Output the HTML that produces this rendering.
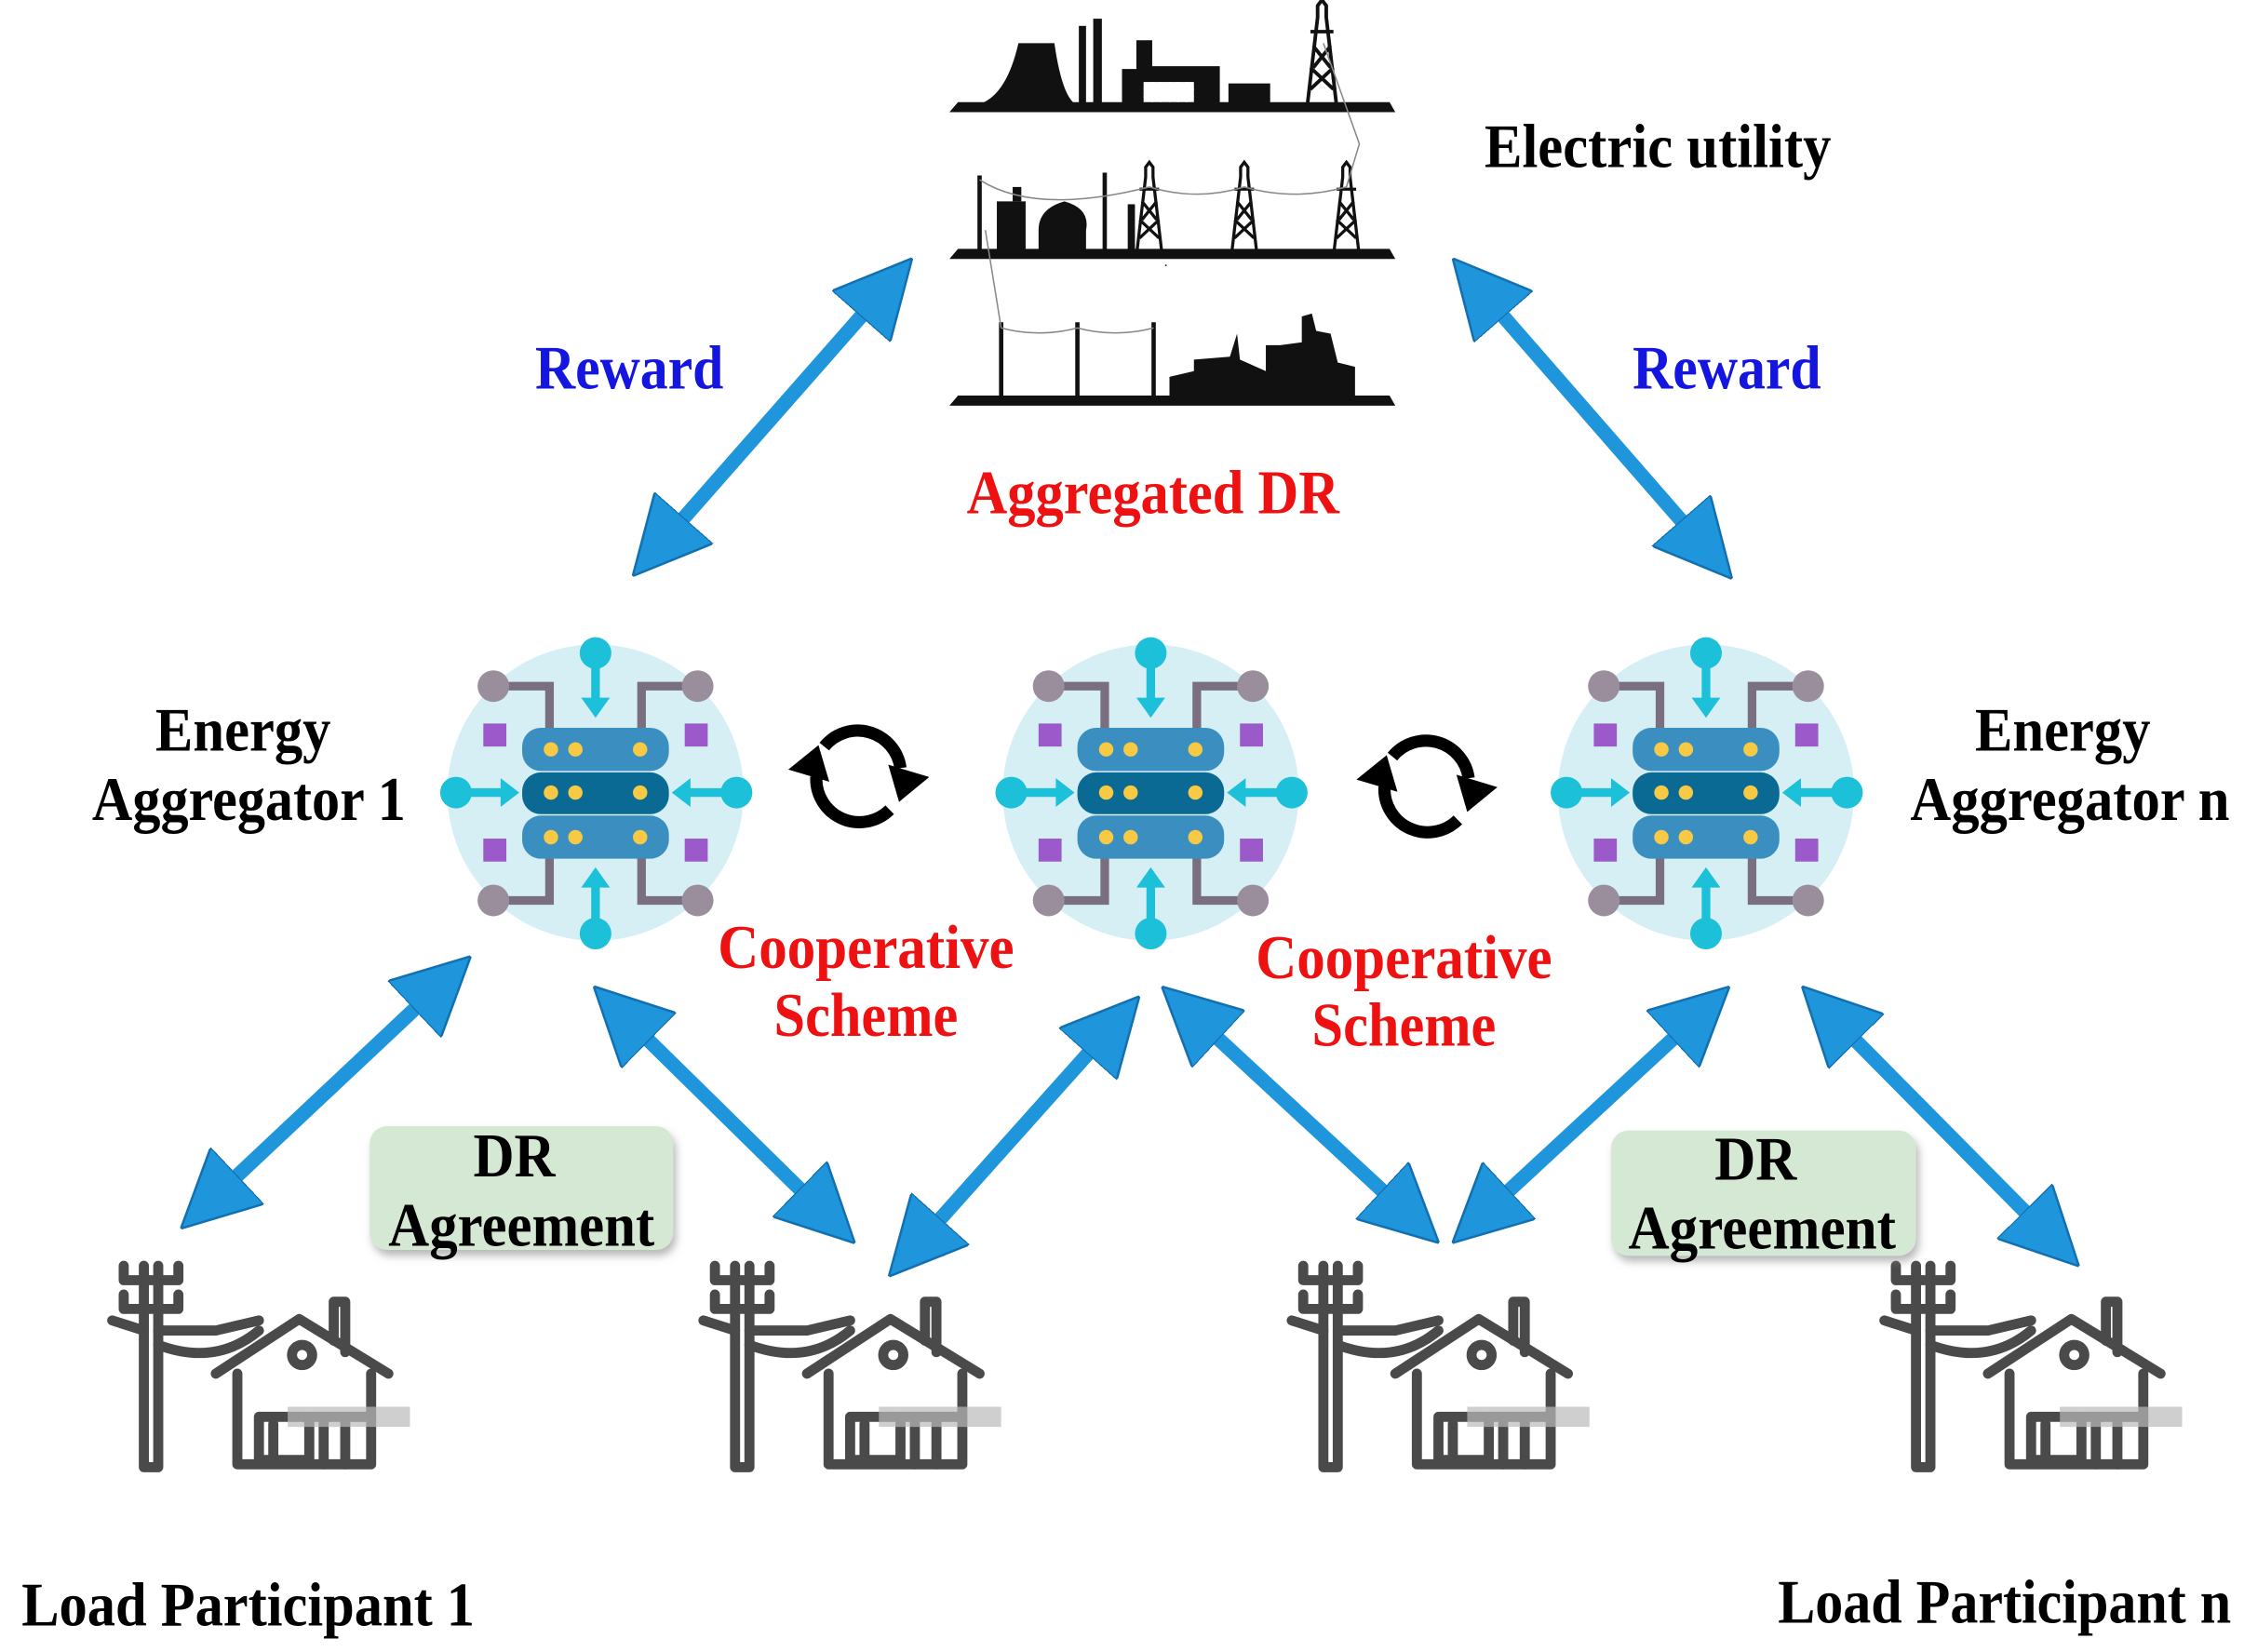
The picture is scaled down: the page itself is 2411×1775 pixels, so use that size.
<!DOCTYPE html>
<html><head><meta charset="utf-8"><style>
html,body{margin:0;padding:0;background:#fff;}
svg{display:block;}
text{font-family:"Liberation Serif",serif;font-weight:bold;font-size:36px;}
</style></head><body>
<svg width="2411" height="1775" viewBox="0 0 1560 1148.5" xmlns="http://www.w3.org/2000/svg">
<defs>
<marker id="ah" viewBox="0 0 5 5" refX="1" refY="2.5" markerWidth="5.4" markerHeight="5.4" orient="auto-start-reverse">
<path d="M0,0 L5,2.5 L0,5 z" fill="#1f95dc" stroke="#1370b0" stroke-width="0.15"/>
</marker>
<filter id="sh" x="-10%" y="-10%" width="130%" height="140%"><feDropShadow dx="2" dy="4" stdDeviation="3" flood-color="#888" flood-opacity="0.6"/></filter>
<g id="agg">
<circle r="103" fill="#d5eff5"/>
<g stroke="#7a6f80" stroke-width="6" fill="none">
<path d="M-71,-74 H-32 V-45"/><path d="M71,-74 H32 V-45"/>
<path d="M-71,75 H-32 V45"/><path d="M71,75 H32 V45"/>
</g>
<g fill="#9a8e9c"><circle cx="-71" cy="-74" r="11"/><circle cx="71" cy="-74" r="11"/><circle cx="-71" cy="75" r="11"/><circle cx="71" cy="75" r="11"/></g>
<g stroke="#1cc0d8" stroke-width="6"><line x1="0" y1="-97" x2="0" y2="-62"/><line x1="0" y1="97" x2="0" y2="62"/><line x1="-95" y1="0" x2="-60" y2="0"/><line x1="95" y1="0" x2="60" y2="0"/></g>
<g fill="#1cc0d8"><circle cx="0" cy="-97" r="11"/><circle cx="0" cy="98" r="11"/><circle cx="-97" cy="0" r="11"/><circle cx="98" cy="0" r="11"/>
<path d="M-10,-66 L10,-66 L0,-52z"/><path d="M-10,66 L10,66 L0,52z"/><path d="M-66,-10 L-66,10 L-53,0z"/><path d="M66,-10 L66,10 L53,0z"/></g>
<g fill="#9b59c9"><rect x="-78" y="-48" width="16" height="16"/><rect x="62" y="-48" width="16" height="16"/><rect x="-78" y="32" width="16" height="16"/><rect x="62" y="32" width="16" height="16"/></g>
<rect x="-51" y="-45" width="102" height="30" rx="13" fill="#3a8fc0"/>
<rect x="-51" y="16" width="102" height="30" rx="13" fill="#3a8fc0"/>
<rect x="-51" y="-14" width="102" height="29" rx="13" fill="#0b6a93"/>
<g fill="#f7c944"><circle cx="-31" cy="-30" r="5"/><circle cx="-14" cy="-30" r="5"/><circle cx="31" cy="-30" r="5"/>
<circle cx="-31" cy="0" r="5"/><circle cx="-14" cy="0" r="5"/><circle cx="31" cy="0" r="5"/>
<circle cx="-31" cy="31" r="5"/><circle cx="-14" cy="31" r="5"/><circle cx="31" cy="31" r="5"/></g>
</g>
<g id="house">
<g fill="none" stroke="#4a4a4a" stroke-width="7" stroke-linejoin="round" stroke-linecap="round">
<path d="M100,880 V1020 H110 V880"/>
<path d="M86,880 V890 H124 V880"/>
<path d="M86,900 V910 H124 V900"/>
<path d="M78,918 L100,925 M110,925 L150,925 L180,918"/>
<path d="M110,935 Q150,950 180,925"/>
<path d="M150,955 L208,917 L270,955"/>
<path d="M232,932 V905 H240 V940"/>
<path d="M165,955 V1018 H258 V955"/>
<circle cx="210" cy="942" r="7"/>
<rect x="180" y="985" width="35" height="30"/>
<path d="M190,990 V1012 M225,985 V1018 M240,985 V1018 M215,985 H258"/>
</g>
<rect x="200" y="978" width="85" height="14" fill="#bbb" opacity="0.7"/>
</g>
<path id="tower" d="M-10,0 L-3,-60 L-3,-68 L0,-72 L3,-68 L3,-60 L10,0 M-8,-50 H8 M-6,-40 L6,-25 M6,-40 L-6,-25 M-8,-25 L8,-10 M8,-25 L-8,-10" fill="none" stroke="#111" stroke-width="2.5"/>
</defs>

<!-- Electric utility -->
<g fill="#111">
<path d="M660,78 L666,71 H966 L970,78z"/>
<path d="M660,180 L666,173 H966 L970,180z"/>
<path d="M660,282 L666,275 H966 L970,282z"/>
<path d="M682,72 Q700,65 708,30 H733 Q738,65 747,72z"/>
<rect x="750" y="18" width="5" height="54"/><rect x="760" y="13" width="6" height="59"/>
<path d="M780,72 V48 H790 V28 H801 V46 H848 V72z"/>
<rect x="854" y="58" width="29" height="14"/>
<rect x="810" y="184" width="1" height="1"/>
<path d="M813,278 V262 L830,258 V250 L855,248 L860,232 L862,250 L880,258 V240 L890,240 L905,238 V220 L912,218 L915,230 L925,232 L930,252 L942,255 V278z"/>
<rect x="683" y="205" width="0" height="0"/>
</g>
<g fill="#fff"><rect x="795" y="57" width="35" height="14"/></g>
<g stroke="#fff" stroke-width="1"><path d="M801,57 V71 M807,57 V71 M813,57 V71 M819,57 V71 M825,57 V71 M795,62 H830 M795,67 H830"/></g>
<use href="#tower" transform="translate(919,72)"/>
<use href="#tower" transform="translate(799,174) scale(0.85)"/>
<use href="#tower" transform="translate(865,174) scale(0.85)"/>
<use href="#tower" transform="translate(936,174) scale(0.85)"/>
<g stroke="#111" stroke-width="3" fill="none">
<path d="M681,174 V122"/><path d="M768,174 V120"/><path d="M696,276 V224"/><path d="M749,276 V224"/><path d="M802,276 V224"/>
</g>
<g fill="#111"><rect x="693" y="140" width="20" height="34"/><rect x="704" y="130" width="6" height="10"/><path d="M722,174 V160 Q722,145 740,140 Q758,145 755,160 V174z"/><rect x="784" y="142" width="5" height="32"/></g>
<g stroke="#888" stroke-width="1" fill="none">
<path d="M799,130 Q832,140 865,130 Q900,140 936,130"/><path d="M936,130 L945,100 L920,30"/><path d="M681,125 Q720,150 799,130"/>
<path d="M696,228 Q722,235 749,228 Q775,235 802,228"/><path d="M696,228 L685,160"/>
</g>

<!-- arrows -->
<g stroke="#1f95dc" stroke-width="10" marker-start="url(#ah)" marker-end="url(#ah)">
<line x1="605.6" y1="212" x2="468.4" y2="368"/>
<line x1="1038.3" y1="212.2" x2="1175.7" y2="369.8"/>
<line x1="295.8" y1="694.4" x2="157.2" y2="824.6"/>
<line x1="443.5" y1="716" x2="563.5" y2="834"/>
<line x1="763.3" y1="724.8" x2="646.7" y2="855.2"/>
<line x1="839.4" y1="715.2" x2="968.6" y2="834.8"/>
<line x1="1170.6" y1="715.2" x2="1041.4" y2="834.8"/>
<line x1="1283.1" y1="716.4" x2="1414.9" y2="849.6"/>
</g>

<!-- aggregators -->
<use href="#agg" transform="translate(414,551)"/>
<use href="#agg" transform="translate(800,551)"/>
<use href="#agg" transform="translate(1186,551)"/>

<!-- cycle icons -->
<g id="cyc" transform="translate(597,537)">
<g fill="none" stroke="#000" stroke-width="8.5">
<path d="M-24,-18 A30,30 0 0 1 29,-3"/>
<path d="M21.5,26 A30,30 0 0 1 -29.5,3"/>
</g>
<path d="M20.5,-5.4 L49,3.2 L28,20.5z M-28,-19 L-49,-2 L-20.5,6.5z" fill="#000"/>
</g>
<use href="#cyc" transform="translate(395,7)"/>

<!-- houses -->
<use href="#house"/>
<use href="#house" transform="translate(411,0)"/>
<use href="#house" transform="translate(820,0)"/>
<use href="#house" transform="translate(1232,0)"/>

<!-- DR boxes -->
<rect x="257" y="783" width="211" height="86" rx="12" fill="#d5e8d4" filter="url(#sh)"/>
<rect x="1120" y="786" width="212" height="87" rx="12" fill="#d5e8d4" filter="url(#sh)"/>

<!-- texts -->
<g fill="#000">
<text transform="translate(1032,116) scale(1,1.2)" textLength="241" lengthAdjust="spacingAndGlyphs">Electric utility</text>
<text transform="translate(108,522) scale(1,1.2)" textLength="122" lengthAdjust="spacingAndGlyphs">Energy</text>
<text transform="translate(64,570) scale(1,1.2)" textLength="218" lengthAdjust="spacingAndGlyphs">Aggregator 1</text>
<text transform="translate(1373,522) scale(1,1.2)" textLength="122" lengthAdjust="spacingAndGlyphs">Energy</text>
<text transform="translate(1328,570) scale(1,1.2)" textLength="222" lengthAdjust="spacingAndGlyphs">Aggregator n</text>
<text transform="translate(329,818) scale(1,1.2)" textLength="57" lengthAdjust="spacingAndGlyphs">DR</text>
<text transform="translate(270,866) scale(1,1.2)" textLength="185" lengthAdjust="spacingAndGlyphs">Agreement</text>
<text transform="translate(1192,820) scale(1,1.2)" textLength="57" lengthAdjust="spacingAndGlyphs">DR</text>
<text transform="translate(1132,868) scale(1,1.2)" textLength="186" lengthAdjust="spacingAndGlyphs">Agreement</text>
<text transform="translate(15,1130) scale(1,1.2)" textLength="315" lengthAdjust="spacingAndGlyphs">Load Participant 1</text>
<text transform="translate(1236,1128) scale(1,1.2)" textLength="315" lengthAdjust="spacingAndGlyphs">Load Participant n</text>
</g>
<g fill="#1515e0">
<text transform="translate(372,270) scale(1,1.2)" textLength="131" lengthAdjust="spacingAndGlyphs">Reward</text>
<text transform="translate(1135,270) scale(1,1.2)" textLength="131" lengthAdjust="spacingAndGlyphs">Reward</text>
</g>
<g fill="#ee1111">
<text transform="translate(672,357) scale(1,1.2)" textLength="259" lengthAdjust="spacingAndGlyphs">Aggregated DR</text>
<text transform="translate(499,673) scale(1,1.2)" textLength="206" lengthAdjust="spacingAndGlyphs">Cooperative</text>
<text transform="translate(538,720) scale(1,1.2)" textLength="128" lengthAdjust="spacingAndGlyphs">Scheme</text>
<text transform="translate(873,680) scale(1,1.2)" textLength="206" lengthAdjust="spacingAndGlyphs">Cooperative</text>
<text transform="translate(912,727) scale(1,1.2)" textLength="128" lengthAdjust="spacingAndGlyphs">Scheme</text>
</g>
</svg>
</body></html>
